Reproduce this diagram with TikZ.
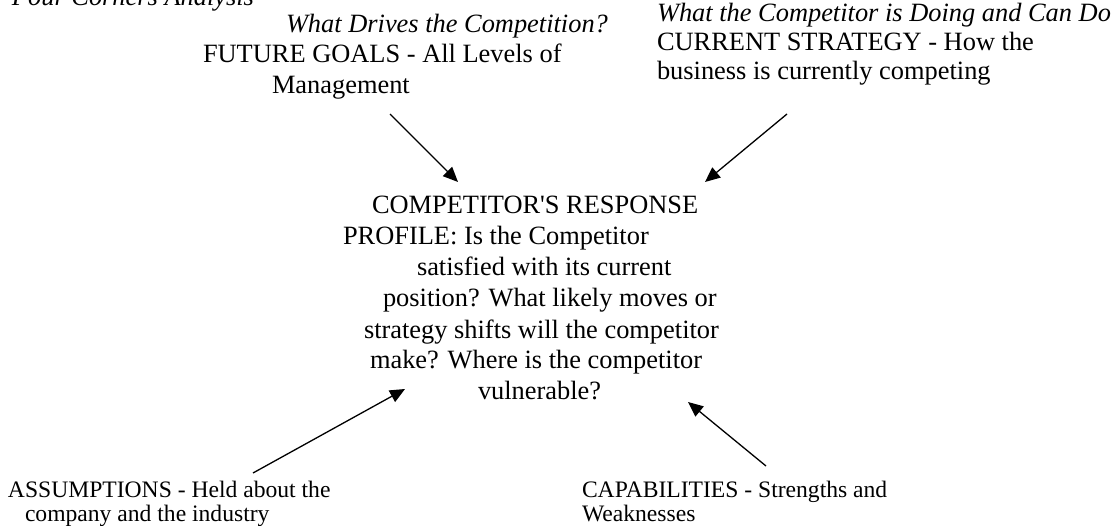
\documentclass[tikz,border=0pt]{standalone}
\usepackage{fontspec}
\setmainfont{Liberation Serif}
\usetikzlibrary{arrows.meta}
\begin{document}
\begin{tikzpicture}[x=1pt,y=-1pt,
  txt/.style={anchor=base west,inner sep=0pt,outer sep=0pt,font=\fontsize{26.4}{30.6}\selectfont},
  itxt/.style={txt,font=\fontsize{26.4}{30.6}\selectfont\itshape},
  btxt/.style={anchor=base west,inner sep=0pt,outer sep=0pt,font=\fontsize{23.6}{27}\selectfont},
  arr/.style={line width=1.3pt,-{Triangle[length=15pt,width=13pt]}}]
\useasboundingbox (0,0) rectangle (1113,526);
% title (cut off at top)
\node[itxt] (title) at (12,6) {Four Corners Analysis};
% top left block
\node[itxt] (fgq) at (286,33) {What Drives the Competition?};
\node[txt] (fg1) at (203,63) {FUTURE GOALS - All Levels of};
\node[txt] (fg2) at (272,94) {Management};
% top right block
\node[itxt] (csq) at (657,22) {What the Competitor is Doing and Can Do};
\node[txt] (cs1) at (657,51) {CURRENT STRATEGY - How the};
\node[txt] (cs2) at (657,80) {business is currently competing};
% centre block
\node[txt] (c1) at (372,214) {COMPETITOR\textquotesingle S RESPONSE};
\node[txt] (c2) at (343,245) {PROFILE: Is the Competitor};
\node[txt] (c3) at (417,276) {satisfied with its current};
\node[txt] (c4) at (383,307) {position? What likely moves or};
\node[txt] (c5) at (364,338) {strategy shifts will the competitor};
\node[txt] (c6) at (370,368) {make? Where is the competitor};
\node[txt] (c7) at (478,399) {vulnerable?};
% bottom blocks
\node[btxt] (as1) at (8,497) {ASSUMPTIONS - Held about the};
\node[btxt] (as2) at (25,521) {company and the industry};
\node[btxt] (ca1) at (582,497) {CAPABILITIES - Strengths and};
\node[btxt] (ca2) at (582,521) {Weaknesses};
% arrow end points
\coordinate (fgT) at (390,114);
\coordinate (fgH) at (458,182);
\coordinate (csT) at (787,114);
\coordinate (csH) at (705,182);
\coordinate (asT) at (253,473);
\coordinate (asH) at (405,389);
\coordinate (caT) at (766,466);
\coordinate (caH) at (688,402);
\draw[arr] (fgT) -- (fgH);
\draw[arr] (csT) -- (csH);
\draw[arr] (asT) -- (asH);
\draw[arr] (caT) -- (caH);
\end{tikzpicture}
\end{document}
